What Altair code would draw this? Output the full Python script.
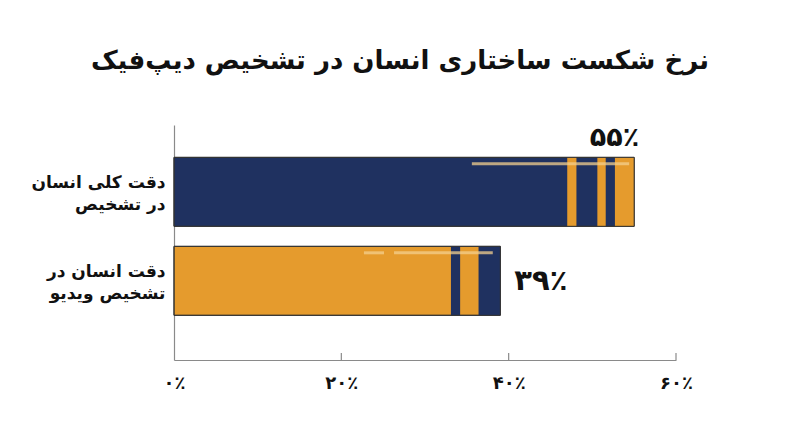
import altair as alt
import pandas as pd

# ---- data ----
categories = ["دقت کلی انسان|در تشخیص", "دقت انسان در|تشخیص ویدیو"]
values = [55, 39]
value_labels = ["۵۵٪", "۳۹٪"]

# decorative stripes (in % units)
stripe_cat = [categories[0], categories[0], categories[0], categories[1], categories[1]]
stripe_start = [47.0, 50.6, 52.7, 33.1, 36.4]
stripe_end = [48.1, 51.6, 55.0, 34.2, 39.0]

# thin glint lines (in % units)
glint_cat = [categories[0], categories[1], categories[1]]
glint_start = [35.6, 22.7, 26.3]
glint_end = [54.4, 25.1, 38.1]

tick_values = [0, 20, 40, 60]
tick_labels = ["۰٪", "۲۰٪", "۴۰٪", "۶۰٪"]

title_text = "نرخ شکست ساختاری انسان در تشخیص دیپ‌فیک"

NAVY = "#1f3160"
ORANGE = "#e59b2d"
FONT = "DejaVu Sans"

bars = pd.DataFrame({"cat": categories, "value": values, "label": value_labels})
stripes = pd.DataFrame({"scat": stripe_cat, "start": stripe_start, "end": stripe_end})
glints = pd.DataFrame({"cat": glint_cat, "start": glint_start, "end": glint_end})
ticks = pd.DataFrame({"t": tick_values[1:]})

label_expr = ""
for v, l in zip(tick_values, tick_labels):
    label_expr += f"datum.value == {v} ? '{l}' : "
label_expr += "''"

W, H = 502, 235

xscale = alt.Scale(domain=[0, 60], nice=False)
yscale = alt.Scale(domain=categories, paddingInner=0.225, paddingOuter=0.433, align=0.42)

x_axis = alt.Axis(values=tick_values, labelExpr=label_expr, ticks=False, grid=False,
                  domainColor="#8a8a8a", domainWidth=1.2, labelFont=FONT, labelFontSize=18,
                  labelFontWeight="bold", labelColor="#111", labelPadding=14, title=None,
                  labelFlush=False)
y_axis = alt.Axis(labelExpr="split(datum.label, '|')", ticks=False, domainColor="#8a8a8a",
                  domainWidth=1.2, labelFont=FONT, labelFontSize=17, labelFontWeight="bold",
                  labelColor="#111", labelPadding=9, labelLineHeight=22, labelOffset=-9,
                  title=None, grid=False)

base_color = alt.Color("cat:N", scale=alt.Scale(domain=categories, range=[NAVY, ORANGE]), legend=None)
stripe_color = alt.Color("scat:N", scale=alt.Scale(domain=categories, range=[ORANGE, NAVY]), legend=None)

bar_layer = alt.Chart(bars).mark_bar(stroke="#333", strokeWidth=1).encode(
    x=alt.X("value:Q", scale=xscale, axis=x_axis),
    y=alt.Y("cat:N", scale=yscale, axis=y_axis, sort=categories),
    color=base_color,
)

stripe_layer = alt.Chart(stripes).mark_bar().encode(
    x=alt.X("start:Q", scale=xscale),
    x2="end:Q",
    y=alt.Y("scat:N", scale=yscale, sort=categories),
    color=stripe_color,
)

glint_layer = alt.Chart(glints).mark_rule(strokeWidth=3, opacity=0.75, color="#f3cf8e", yOffset=-28).encode(
    x=alt.X("start:Q", scale=xscale),
    x2="end:Q",
    y=alt.Y("cat:N", scale=yscale, sort=categories),
)

outline_layer = alt.Chart(bars).mark_bar(stroke="#333", strokeWidth=1, fillOpacity=0, fill="white").encode(
    x=alt.X("value:Q", scale=xscale),
    y=alt.Y("cat:N", scale=yscale, sort=categories),
)

tick_layer = alt.Chart(ticks).mark_rule(color="#8a8a8a", strokeWidth=1.2).encode(
    x=alt.X("t:Q", scale=xscale),
    y=alt.value(H),
    y2=alt.value(H - 7),
)

label1 = alt.Chart(bars.iloc[[0]]).mark_text(
    font=FONT, fontSize=27, fontWeight="bold", color="#111", align="right",
    baseline="middle", dx=5, yOffset=-54,
).encode(
    x=alt.X("value:Q", scale=xscale),
    y=alt.Y("cat:N", scale=yscale, sort=categories),
    text="label:N",
)

label2 = alt.Chart(bars.iloc[[1]]).mark_text(
    font=FONT, fontSize=29, fontWeight="bold", color="#111", align="left",
    baseline="middle", dx=14,
).encode(
    x=alt.X("value:Q", scale=xscale),
    y=alt.Y("cat:N", scale=yscale, sort=categories),
    text="label:N",
)

chart = alt.layer(bar_layer, stripe_layer, glint_layer, outline_layer, tick_layer, label1, label2).resolve_scale(
    color="independent"
).properties(
    width=W, height=H,
    background="white",
    title=alt.TitleParams(title_text, font=FONT, fontSize=26, fontWeight="bold", color="#111",
                          anchor="middle", dx=-25, offset=50),
    autosize=alt.AutoSizeParams(type="none"),
    padding={"left": 166, "top": 117, "right": 116, "bottom": 79},
).configure_view(strokeWidth=0, stroke="transparent")

chart.save("out.html", embed_options={"renderer": "svg", "actions": False})
